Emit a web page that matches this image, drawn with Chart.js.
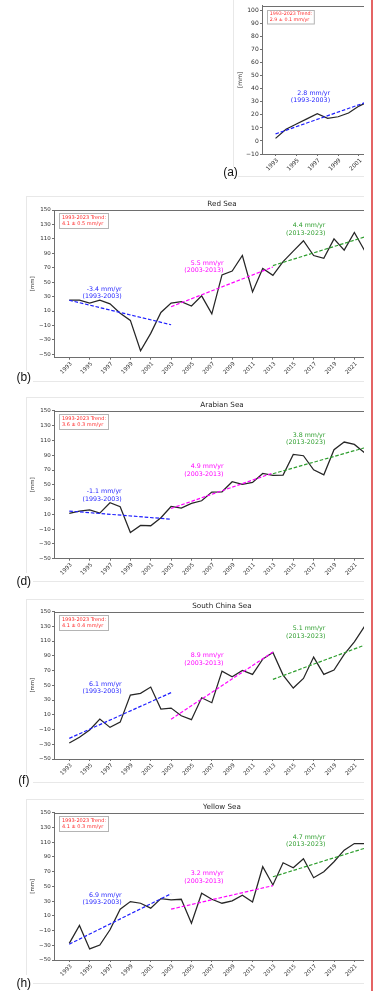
<!DOCTYPE html>
<html><head><meta charset="utf-8">
<script src="https://cdn.jsdelivr.net/npm/chart.js@4.4.1/dist/chart.umd.min.js"></script>
<style>
html,body{margin:0;padding:0;background:#fff;}
body{width:375px;height:991px;position:relative;overflow:hidden;font-family:'Liberation Sans',Arial,sans-serif;}
.clip{position:absolute;left:0;width:364px;overflow:hidden;}
.clip canvas{position:absolute;top:0;}
.ln{position:absolute;background:#e8e8e8;}
.lab{position:absolute;width:30px;text-align:center;font-size:12px;line-height:12px;color:#111;}
.red{position:absolute;left:371px;top:0;width:2px;height:991px;background:#e46464;}
</style></head><body>
<!-- panel frames -->
<div class="ln" style="left:233px;top:0;width:1px;height:167px"></div>
<div class="ln" style="left:238px;top:176px;width:126px;height:1px"></div>
<div class="ln" style="left:26px;top:196px;width:338px;height:1px"></div>
<div class="ln" style="left:26px;top:196px;width:1px;height:175px"></div>
<div class="ln" style="left:33px;top:381px;width:331px;height:1px"></div>
<div class="ln" style="left:26px;top:397px;width:338px;height:1px"></div>
<div class="ln" style="left:26px;top:397px;width:1px;height:176px"></div>
<div class="ln" style="left:33px;top:581px;width:331px;height:1px"></div>
<div class="ln" style="left:26px;top:599px;width:338px;height:1px"></div>
<div class="ln" style="left:26px;top:599px;width:1px;height:175px"></div>
<div class="ln" style="left:33px;top:782px;width:331px;height:1px"></div>
<div class="ln" style="left:26px;top:799px;width:338px;height:1px"></div>
<div class="ln" style="left:26px;top:799px;width:1px;height:176px"></div>
<div class="ln" style="left:33px;top:983px;width:331px;height:1px"></div>

<div class="clip" style="top:0;height:175px"><canvas id="cA" style="left:233px"></canvas></div>
<div class="clip" style="top:196px;height:185px"><canvas id="cB" style="left:0"></canvas></div>
<div class="clip" style="top:396px;height:185px"><canvas id="cD" style="left:0"></canvas></div>
<div class="clip" style="top:597px;height:185px"><canvas id="cF" style="left:0"></canvas></div>
<div class="clip" style="top:798px;height:185px"><canvas id="cH" style="left:0"></canvas></div>

<div class="lab" style="left:215.5px;top:165.5px">(a)</div>
<div class="lab" style="left:8.8px;top:371.3px">(b)</div>
<div class="lab" style="left:8.8px;top:574.7px">(d)</div>
<div class="lab" style="left:8.8px;top:774px">(f)</div>
<div class="lab" style="left:8.8px;top:977.2px">(h)</div>
<div class="red"></div>

<script>
// ---------------- data ----------------
const years = [1993,1994,1995,1996,1997,1998,1999,2000,2001,2002,2003,2004,2005,2006,2007,2008,2009,2010,2011,2012,2013,2014,2015,2016,2017,2018,2019,2020,2021,2022];
const xTickYears = [1993,1995,1997,1999,2001,2003,2005,2007,2009,2011,2013,2015,2017,2019,2021,2023];
const yTicksRegional = [-50,-30,-10,10,30,50,70,90,110,130,150];
const yTicksGlobal = [-10,0,10,20,30,40,50,60,70,80,90,100];

const globalYears = [1993,1994,1995,1996,1997,1998,1999,2000,2001,2002];
const globalMean = [2,9,13,17,21,17.3,18.6,21.5,26.8,30.5];

const redSea = [25,25,21,25,20,7,-3,-45,-21,8,21,23,17,31,6,60,65.5,87,36.5,69,59.5,78.5,93,107.5,87,83,110,94.5,119,94];
const arabianSea = [11.3,14.4,16.2,11.7,25.7,20.3,-14.5,-5,-5.4,5.4,20.7,18.5,24.9,28.4,40.2,40.6,54.2,50.5,53.3,65.4,62.7,63.2,91.2,89.4,70.4,63.6,97.5,107.9,104.7,93.5];
const southChinaSea = [-28.3,-20.6,-10.7,4.2,-7.1,0,36.7,39,47.6,17.8,19.1,8.7,3.3,33.1,26.3,69.2,61.6,70.1,64.7,85.5,94.5,63.8,46.2,59.3,88.2,64.7,70.6,92,109,130];
const yellowSea = [-27.4,-3.1,-35,-29.6,-8.9,19,29.4,27.1,20.4,33.4,31.6,32.5,0,40.6,32.5,27.1,30.3,37.9,28.9,76.7,51.9,82.1,75.3,87.5,61.8,69.9,83.4,99.2,108.2,108.2];

// trend segments: [value at start, value at end]
const trendStart = [1993,2003,2013];
const trendEnd = [2003,2013,2023];
const globalTrend = [[5.4,33.4]];
const redSeaTrend = [[25,-9],[16,71],[73,117]];
const arabianSeaTrend = [[14.5,3.5],[18,66],[65,104]];
const southChinaSeaTrend = [[-22,40],[4,95],[58,109.5]];
const yellowSeaTrend = [[-28.5,40],[19,51],[63,106]];

const trendPeriods = ['(1993-2003)','(2003-2013)','(2013-2023)'];
const globalRates = ['2.8 mm/yr'];
const redSeaRates = ['-3.4 mm/yr','5.5 mm/yr','4.4 mm/yr'];
const arabianSeaRates = ['-1.1 mm/yr','4.9 mm/yr','3.8 mm/yr'];
const southChinaSeaRates = ['6.1 mm/yr','8.9 mm/yr','5.1 mm/yr'];
const yellowSeaRates = ['6.9 mm/yr','3.2 mm/yr','4.7 mm/yr'];

const legendHead = '1993-2023 Trend:';
const globalFullTrend = '2.9 ± 0.1 mm/yr';
const redSeaFullTrend = '4.1 ± 0.5 mm/yr';
const arabianSeaFullTrend = '3.6 ± 0.3 mm/yr';
const southChinaSeaFullTrend = '4.1 ± 0.4 mm/yr';
const yellowSeaFullTrend = '4.1 ± 0.3 mm/yr';

// ---------------- styles ----------------
const trendColors = ['#1f1fff','#ff00ff','#2e9e2e'];
const FONT = "'DejaVu Sans', sans-serif";
Chart.defaults.font.family = FONT;
Chart.defaults.color = '#333';
const AX = '#6e6e6e';

function fmt(v){ return v < 0 ? '\u2212' + Math.abs(v) : String(v); }

function decoPlugin(p){
  return {
    id:'deco',
    afterDatasetsDraw(chart){
      const {ctx, chartArea:a, scales:{x, y}} = chart;
      ctx.save();
      ctx.strokeStyle = AX; ctx.lineWidth = 1;
      const ty = Math.round(a.top) + 0.5;
      ctx.beginPath(); ctx.moveTo(a.left, ty); ctx.lineTo(a.right, ty); ctx.lineTo(a.right, a.bottom); ctx.stroke();
      ctx.font = p.noteFont + 'px ' + FONT;
      ctx.textAlign = 'right'; ctx.textBaseline = 'middle';
      p.notes.forEach(n => {
        const px = x.getPixelForValue(n.x), py = y.getPixelForValue(n.y);
        ctx.fillStyle = n.color;
        n.lines.forEach((t,i) => ctx.fillText(t, px, py + i*p.noteGap));
      });
      ctx.font = p.legFont + 'px ' + FONT;
      const w = Math.max(...p.legLines.map(t => ctx.measureText(t).width)) + 2*p.legPad;
      const bx = Math.round(a.left + p.legDx) + 0.5, by = Math.round(a.top + p.legDy) + 0.5;
      ctx.fillStyle = '#fff'; ctx.fillRect(bx, by, w, p.legH);
      ctx.strokeStyle = '#b4b4b4'; ctx.lineWidth = 1; ctx.strokeRect(bx, by, w, p.legH);
      ctx.fillStyle = '#ff2b2b'; ctx.textAlign = 'left';
      p.legLines.forEach((t,i) => ctx.fillText(t, bx + p.legPad, by + p.legL1 + i*p.legGap));
      ctx.restore();
    }
  };
}

function build(id, p){
  const el = document.getElementById(id);
  el.width = p.w; el.height = p.h;
  const datasets = [];
  p.trend.forEach((t,i) => datasets.push({
    data:[{x:trendStart[i], y:t[0]},{x:trendEnd[i], y:t[1]}],
    borderColor:trendColors[i], borderWidth:1.2, borderDash:[3.6,1.8], pointRadius:0, tension:0
  }));
  datasets.push({
    data:p.xs.map((x,i) => ({x, y:p.ys[i]})),
    borderColor:'#262626', borderWidth:1.25, pointRadius:0, tension:0
  });
  const grid = {display:true, drawOnChartArea:false, drawTicks:true, tickLength:2, color:AX, tickColor:AX};
  const border = {display:true, color:AX, width:1};
  return new Chart(el, {
    type:'line',
    data:{datasets},
    options:{
      responsive:false, animation:false, events:[], devicePixelRatio:1,
      layout:{padding:{top:p.padTop, right:p.padRight, left:0, bottom:0}},
      plugins:{
        legend:{display:false}, tooltip:{enabled:false},
        title:{display:!!p.title, text:p.title || '', fullSize:false, color:'#1e1e1e',
               font:{size:7.2, weight:'normal'}, padding:{top:3.9, bottom:1.5}}
      },
      scales:{
        x:{type:'linear', min:p.xmin, max:p.xmax,
           afterBuildTicks:s => { s.ticks = xTickYears.map(v => ({value:v})); },
           afterFit:s => { s.height = p.xh; },
           ticks:{autoSkip:false, minRotation:45, maxRotation:45, padding:1, labelOffset:p.labelOffset,
                  font:{size:p.xTickFont}, color:'#2e2e2e', callback:v => String(v)},
           grid, border},
        y:{type:'linear', min:p.ymin, max:p.ymax,
           afterBuildTicks:s => { s.ticks = p.yticks.map(v => ({value:v})); },
           afterFit:s => { s.width = p.yw; },
           ticks:{font:{size:p.yTickFont}, color:'#2e2e2e', padding:1.3, callback:v => fmt(v)},
           grid, border,
           title:{display:true, text:'[mm]', color:'#333', font:{size:p.ylabFont}, padding:{top:p.yTitlePad, bottom:0}}}
      }
    },
    plugins:[decoPlugin(p)]
  });
}

function notesFor(rates, ys, xs){
  return rates.map((r,i) => ({x:xs[i], y:ys[i], color:trendColors[i], lines:[r, trendPeriods[i]]}));
}

const regionalBase = {w:400, h:185, padRight:10, xmin:1991.5, xmax:2024.5, ymax:150, yticks:yTicksRegional,
  yw:54, xTickFont:5.6, yTickFont:5.5, ylabFont:5.4, yTitlePad:29.1, labelOffset:2,
  noteFont:6.3, noteGap:7.5, legFont:5, legPad:2.4, legDx:4.7, legDy:3, legH:15, legL1:4.2, legGap:5.9};
const noteX = [1998.15, 2008.15, 2018.15];

build('cA', {w:371, h:172, padTop:5.7, padRight:0, xmin:1991.7, xmax:2024.5, ymin:-10, ymax:103.85,
  yticks:yTicksGlobal, yw:29, xh:18, xTickFont:5.8, yTickFont:6, ylabFont:6, yTitlePad:3.4, labelOffset:2,
  xs:globalYears, ys:globalMean, trend:globalTrend,
  notes:notesFor(globalRates, [36.5], [1998.23]), noteFont:6.3, noteGap:6.7,
  legLines:[legendHead, globalFullTrend], legFont:4.8, legPad:2.2, legDx:4.7, legDy:4.3, legH:13.5, legL1:3.4, legGap:6});

build('cB', Object.assign({}, regionalBase, {title:'Red Sea', padTop:0, ymin:-54.7, xh:23.3,
  xs:years, ys:redSea, trend:redSeaTrend,
  notes:notesFor(redSeaRates, [40.1,76.1,128.3], noteX), legLines:[legendHead, redSeaFullTrend]}));

build('cD', Object.assign({}, regionalBase, {title:'Arabian Sea', padTop:0.9, ymin:-50, xh:22.3,
  xs:years, ys:arabianSea, trend:arabianSeaTrend,
  notes:notesFor(arabianSeaRates, [41.1,74.5,117.4], noteX), legLines:[legendHead, arabianSeaFullTrend]}));

build('cF', Object.assign({}, regionalBase, {title:'South China Sea', padTop:0.5, ymin:-50, xh:23,
  xs:years, ys:southChinaSea, trend:southChinaSeaTrend,
  notes:notesFor(southChinaSeaRates, [51.6,90.5,126.6], noteX), legLines:[legendHead, southChinaSeaFullTrend]}));

build('cH', Object.assign({}, regionalBase, {title:'Yellow Sea', padTop:0.7, ymin:-50, xh:23,
  xs:years, ys:yellowSea, trend:yellowSeaTrend,
  notes:notesFor(yellowSeaRates, [38.4,67.2,116.8], noteX), legLines:[legendHead, yellowSeaFullTrend]}));
</script>
</body></html>
